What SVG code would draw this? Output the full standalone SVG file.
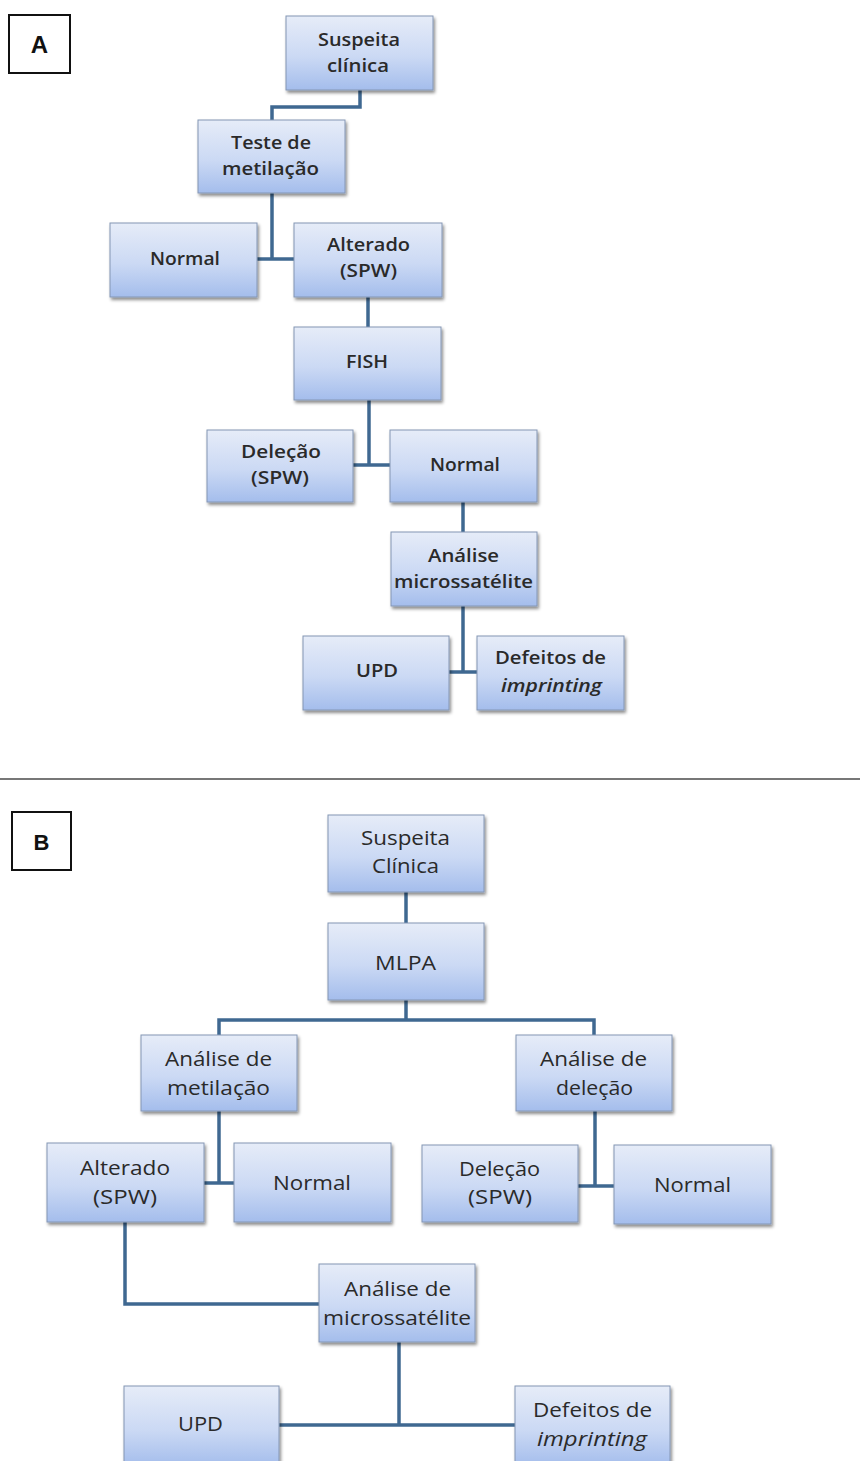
<svg xmlns="http://www.w3.org/2000/svg" width="860" height="1461" viewBox="0 0 860 1461">
<defs>
<linearGradient id="g" x1="0" y1="0" x2="0" y2="1">
<stop offset="0" stop-color="#e6ecf8"/>
<stop offset="0.55" stop-color="#cbd9f4"/>
<stop offset="1" stop-color="#a4bdec"/>
</linearGradient>
<filter id="sh" x="-10%" y="-10%" width="125%" height="130%">
<feDropShadow dx="1.5" dy="2.5" stdDeviation="1.8" flood-color="#000" flood-opacity="0.45"/>
</filter>
<style>
.box{fill:url(#g);stroke:#8496b4;stroke-width:1;filter:url(#sh)}
.lbl{fill:#fff;stroke:#111;stroke-width:2}
.ta{font-family:"Open Sans","Liberation Sans",sans-serif;font-size:18px;font-weight:600;fill:#2a2a2a;text-anchor:middle}
.tb{font-family:"Open Sans","Liberation Sans",sans-serif;font-size:20px;fill:#2a2a2a;text-anchor:middle}
.it{font-style:italic}
.pl{font-family:"Liberation Sans",Arial,sans-serif;font-weight:bold;fill:#111;text-anchor:middle}
.con{fill:none;stroke:#3f6891;stroke-width:3.5}
</style>
</defs>
<rect width="860" height="1461" fill="#fff"/>
<g id="panelA-label"><rect class="lbl" x="9" y="15" width="61" height="58"/><text class="pl" x="39.5" y="53" font-size="24">A</text></g>
<line x1="0" y1="779" x2="860" y2="779" stroke="#777" stroke-width="2"/>
<g id="panelB-label"><rect class="lbl" x="12" y="812" width="59" height="58"/><text class="pl" x="41.5" y="850" font-size="22">B</text></g>

<g id="connectors">
<polyline class="con" points="360,90 360,107 272,107 272,120"/>
<polyline class="con" points="272,193 272,259"/>
<line class="con" x1="257" y1="259" x2="294" y2="259"/>
<line class="con" x1="368" y1="297" x2="368" y2="327"/>
<polyline class="con" points="369,400 369,465"/>
<line class="con" x1="353" y1="465" x2="390" y2="465"/>
<line class="con" x1="463" y1="502" x2="463" y2="532"/>
<polyline class="con" points="463,606 463,672"/>
<line class="con" x1="449" y1="672" x2="477" y2="672"/>

<line class="con" x1="406" y1="892" x2="406" y2="923"/>
<line class="con" x1="406" y1="1000" x2="406" y2="1020"/>
<polyline class="con" points="219,1035 219,1020 594,1020 594,1035"/>
<polyline class="con" points="219,1111 219,1183"/>
<line class="con" x1="204" y1="1183" x2="234" y2="1183"/>
<polyline class="con" points="595,1111 595,1186"/>
<line class="con" x1="578" y1="1186" x2="614" y2="1186"/>
<polyline class="con" points="125,1222 125,1304 319,1304"/>
<polyline class="con" points="399,1342 399,1425"/>
<line class="con" x1="279" y1="1425" x2="515" y2="1425"/>
</g>

<g id="a-suspeita"><rect class="box" x="286" y="16" width="147" height="74"/>
<text class="ta" x="359" y="46" textLength="82" lengthAdjust="spacingAndGlyphs">Suspeita</text>
<text class="ta" x="358" y="72" textLength="62" lengthAdjust="spacingAndGlyphs">clínica</text></g>
<g id="a-teste"><rect class="box" x="198" y="120" width="147" height="73"/>
<text class="ta" x="271" y="149" textLength="80" lengthAdjust="spacingAndGlyphs">Teste de</text>
<text class="ta" x="270.5" y="175" textLength="97" lengthAdjust="spacingAndGlyphs">metilação</text></g>
<g id="a-normal1"><rect class="box" x="110" y="223" width="147" height="74"/>
<text class="ta" x="185" y="265" textLength="70" lengthAdjust="spacingAndGlyphs">Normal</text></g>
<g id="a-alterado"><rect class="box" x="294" y="223" width="148" height="74"/>
<text class="ta" x="368.5" y="251" textLength="83" lengthAdjust="spacingAndGlyphs">Alterado</text>
<text class="ta" x="368.5" y="277" textLength="57" lengthAdjust="spacingAndGlyphs">(SPW)</text></g>
<g id="a-fish"><rect class="box" x="294" y="327" width="147" height="73"/>
<text class="ta" x="367" y="368" textLength="42" lengthAdjust="spacingAndGlyphs">FISH</text></g>
<g id="a-delecao"><rect class="box" x="207" y="430" width="146" height="72"/>
<text class="ta" x="281" y="458" textLength="80" lengthAdjust="spacingAndGlyphs">Deleção</text>
<text class="ta" x="280" y="484" textLength="58" lengthAdjust="spacingAndGlyphs">(SPW)</text></g>
<g id="a-normal2"><rect class="box" x="390" y="430" width="147" height="72"/>
<text class="ta" x="465" y="471" textLength="70" lengthAdjust="spacingAndGlyphs">Normal</text></g>
<g id="a-micro"><rect class="box" x="391" y="532" width="146" height="74"/>
<text class="ta" x="463.5" y="562" textLength="71" lengthAdjust="spacingAndGlyphs">Análise</text>
<text class="ta" x="463.5" y="588" textLength="139" lengthAdjust="spacingAndGlyphs">microssatélite</text></g>
<g id="a-upd"><rect class="box" x="303" y="636" width="146" height="74"/>
<text class="ta" x="377" y="677" textLength="42" lengthAdjust="spacingAndGlyphs">UPD</text></g>
<g id="a-defeitos"><rect class="box" x="477" y="636" width="147" height="74"/>
<text class="ta" x="550.5" y="664" textLength="111" lengthAdjust="spacingAndGlyphs">Defeitos de</text>
<text class="ta it" x="551.5" y="692" textLength="101" lengthAdjust="spacingAndGlyphs">imprinting</text></g>

<g id="b-suspeita"><rect class="box" x="328" y="815" width="156" height="77"/>
<text class="tb" x="405.5" y="845" textLength="89" lengthAdjust="spacingAndGlyphs">Suspeita</text>
<text class="tb" x="405.5" y="873" textLength="67" lengthAdjust="spacingAndGlyphs">Clínica</text></g>
<g id="b-mlpa"><rect class="box" x="328" y="923" width="156" height="77"/>
<text class="tb" x="405.5" y="970" textLength="61" lengthAdjust="spacingAndGlyphs">MLPA</text></g>
<g id="b-metilacao"><rect class="box" x="141" y="1035" width="156" height="76"/>
<text class="tb" x="218.5" y="1066" textLength="107" lengthAdjust="spacingAndGlyphs">Análise de</text>
<text class="tb" x="218.5" y="1095" textLength="103" lengthAdjust="spacingAndGlyphs">metilação</text></g>
<g id="b-delecao"><rect class="box" x="516" y="1035" width="156" height="76"/>
<text class="tb" x="593.5" y="1066" textLength="107" lengthAdjust="spacingAndGlyphs">Análise de</text>
<text class="tb" x="594.5" y="1095" textLength="77" lengthAdjust="spacingAndGlyphs">deleção</text></g>
<g id="b-alterado"><rect class="box" x="47" y="1143" width="157" height="79"/>
<text class="tb" x="125" y="1175" textLength="90" lengthAdjust="spacingAndGlyphs">Alterado</text>
<text class="tb" x="125" y="1204" textLength="64" lengthAdjust="spacingAndGlyphs">(SPW)</text></g>
<g id="b-normal1"><rect class="box" x="234" y="1143" width="157" height="79"/>
<text class="tb" x="312" y="1190" textLength="78" lengthAdjust="spacingAndGlyphs">Normal</text></g>
<g id="b-delecao-spw"><rect class="box" x="422" y="1145" width="156" height="77"/>
<text class="tb" x="499.5" y="1176" textLength="81" lengthAdjust="spacingAndGlyphs">Deleção</text>
<text class="tb" x="500" y="1204" textLength="64" lengthAdjust="spacingAndGlyphs">(SPW)</text></g>
<g id="b-normal2"><rect class="box" x="614" y="1145" width="157" height="79"/>
<text class="tb" x="692.5" y="1192" textLength="77" lengthAdjust="spacingAndGlyphs">Normal</text></g>
<g id="b-micro"><rect class="box" x="319" y="1264" width="156" height="78"/>
<text class="tb" x="397.5" y="1296" textLength="107" lengthAdjust="spacingAndGlyphs">Análise de</text>
<text class="tb" x="397" y="1325" textLength="148" lengthAdjust="spacingAndGlyphs">microssatélite</text></g>
<g id="b-upd"><rect class="box" x="124" y="1386" width="155" height="80"/>
<text class="tb" x="200.5" y="1431" textLength="45" lengthAdjust="spacingAndGlyphs">UPD</text></g>
<g id="b-defeitos"><rect class="box" x="515" y="1386" width="155" height="80"/>
<text class="tb" x="592.5" y="1417" textLength="119" lengthAdjust="spacingAndGlyphs">Defeitos de</text>
<text class="tb it" x="592" y="1446" textLength="110" lengthAdjust="spacingAndGlyphs">imprinting</text></g>
</svg>
